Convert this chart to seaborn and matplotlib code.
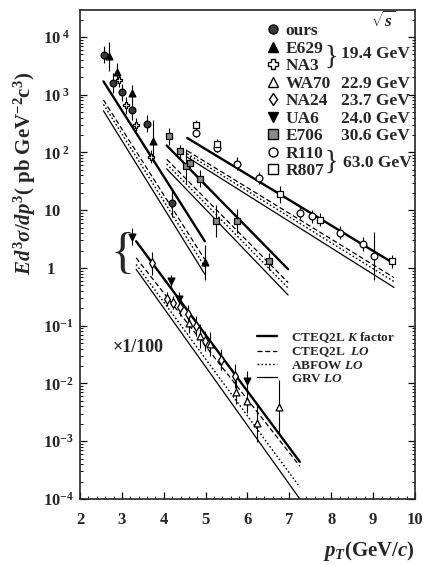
import numpy as np
import pandas as pd
import matplotlib
matplotlib.use("Agg")
import matplotlib.pyplot as plt
from matplotlib.lines import Line2D
from matplotlib.transforms import IdentityTransform
import seaborn as sns

# ---------------- measured direct-photon cross sections ----------------
# pT in GeV/c, E d3sigma/dp3 in pb GeV^-2 c^3, err = multiplicative error factor
# sqrt(s) = 19.4 GeV
ours_pt = [2.58, 2.78, 3.00, 3.25, 3.59, 4.19]
ours_xs = [4900, 1600, 1100, 550, 315, 13.5]
ours_err = [1.4, 1.5, 1.4, 1.5, 1.4, 1.8]

e629_pt = [2.70, 2.89, 3.25, 3.75, 4.98]
e629_xs = [4600, 2500, 1070, 156, 1.25]
e629_err = [1.8, 1.4, 1.4, 2.3, 2.0]

na3_pt = [2.94, 3.10, 3.34, 3.69]
na3_xs = [1800, 650, 300, 85]
na3_err = [1.3, 1.4, 1.3, 1.3]

# sqrt(s) = 30.6 GeV
e706_pt = [4.13, 4.39, 4.53, 4.63, 4.86, 5.25, 5.76, 6.51]
e706_xs = [190, 105, 58, 66, 35, 6.5, 6.5, 1.3]
e706_err = [1.4, 1.3, 2.0, 1.3, 1.4, 1.9, 1.6, 1.4]

# sqrt(s) = 63.0 GeV
r110_pt = [4.77, 5.26, 5.76, 6.27, 7.25, 7.53, 8.21, 8.75, 9.02]
r110_xs = [220, 120, 64, 36, 9.1, 7.9, 4.1, 2.6, 1.6]
r110_err = [1.2, 1.2, 1.3, 1.25, 1.3, 1.3, 1.3, 1.3, 2.6]

r807_pt = [4.77, 5.26, 6.77, 7.73, 9.46]
r807_xs = [300, 140, 19, 6.9, 1.3]
r807_err = [1.2, 1.2, 1.4, 1.3, 1.3]

# sqrt(s) = 22.9 - 24.0 GeV, values shown multiplied by 1/100
ua6_pt = [3.23, 4.17, 4.37, 5.99]
ua6_xs = [3.5, 0.59, 0.29, 0.011]
ua6_err = [1.4, 1.3, 1.3, 1.5]

na24_pt = [3.73, 4.08, 4.23, 4.39, 4.58, 4.78, 4.98, 5.36, 5.70]
na24_xs = [1.2, 0.29, 0.25, 0.21, 0.16, 0.10, 0.055, 0.026, 0.0135]
na24_err = [1.6, 1.3, 1.3, 1.4, 1.4, 1.5, 1.5, 1.5, 1.6]

wa70_pt = [4.61, 4.86, 5.10, 5.72, 5.98, 6.22, 6.75]
wa70_xs = [0.11, 0.066, 0.048, 0.0071, 0.005, 0.0021, 0.0039]
wa70_err = [1.5, 1.6, 1.6, 1.6, 1.6, 2.2, 3.0]

# ---------------- QCD predictions (end points of each curve) ----------------
models = ["CTEQ2L K factor", "CTEQ2L LO", "ABFOW LO", "GRV LO"]

s19_pt = [2.56, 4.98]
s19_curves = [[1700, 2.9], [810, 1.4], [680, 1.05], [525, 0.78]]

s31_pt = [4.07, 6.97]
s31_curves = [[132, 0.95], [76, 0.56], [63, 0.45], [52, 0.34]]

s63_pt = [4.56, 9.50]
s63_curves = [[178, 1.19], [107, 0.68], [95, 0.58], [83, 0.46]]

s23_pt = [3.34, 7.25]
s23_curves = [[2.9, 4.4e-4], [1.5, 3.7e-4], [1.15, 1.6e-4], [0.95, 1.0e-4]]

energies = ["19.4 GeV", "22.9 GeV", "23.7 GeV", "24.0 GeV", "30.6 GeV", "63.0 GeV"]

# ---------------- style ----------------
sns.set_theme(style="ticks")
plt.rcParams["font.family"] = ["Liberation Serif", "DejaVu Serif"]
plt.rcParams["font.weight"] = "bold"
plt.rcParams["mathtext.fontset"] = "custom"
plt.rcParams["mathtext.rm"] = "Liberation Serif:bold"
plt.rcParams["mathtext.bf"] = "Liberation Serif:bold"
plt.rcParams["mathtext.it"] = "Liberation Serif:italic:bold"
plt.rcParams["axes.linewidth"] = 1.2

fig = plt.figure(figsize=(4.23, 5.65), dpi=100)
ax = fig.add_axes([80 / 423, 1 - 499 / 565, 335 / 423, 489 / 565])
ax.set_yscale("log")
ax.set_xlim(2, 10)
ax.set_ylim(1e-4, 10 ** 4.466)

# theory curves
rows = []
for band, pts, curves in [("s19", s19_pt, s19_curves), ("s31", s31_pt, s31_curves),
                          ("s63", s63_pt, s63_curves), ("s23", s23_pt, s23_curves)]:
    for m, ys in zip(models, curves):
        for p, y in zip(pts, ys):
            rows.append({"band": band, "model": m, "pt": p, "xs": y})
theory = pd.DataFrame(rows)
dash_map = {"CTEQ2L K factor": "", "CTEQ2L LO": (4, 2.2), "ABFOW LO": (1.2, 1.6), "GRV LO": ""}
width_map = {"CTEQ2L K factor": 1.7, "CTEQ2L LO": 0.9, "ABFOW LO": 1.0, "GRV LO": 0.9}
sns.lineplot(data=theory, x="pt", y="xs", style="model", size="model", units="band",
             estimator=None, dashes=dash_map, sizes=width_map, color="black",
             legend=False, ax=ax, zorder=2)

# measured points
series = [
    ("ours", ours_pt, ours_xs, ours_err, "o", "#3a3a3a"),
    ("E629", e629_pt, e629_xs, e629_err, "^", "black"),
    ("NA3", na3_pt, na3_xs, na3_err, "P", "white"),
    ("WA70", wa70_pt, wa70_xs, wa70_err, "^", "white"),
    ("NA24", na24_pt, na24_xs, na24_err, "d", "white"),
    ("UA6", ua6_pt, ua6_xs, ua6_err, "v", "black"),
    ("E706", e706_pt, e706_xs, e706_err, "s", "#8a8a8a"),
    ("R110", r110_pt, r110_xs, r110_err, "o", "white"),
    ("R807", r807_pt, r807_xs, r807_err, "s", "white"),
]
handles = []
for name, pt, xs, err, mk, fc in series:
    xs_a = np.array(xs, dtype=float)
    f = np.array(err, dtype=float)
    ax.errorbar(pt, xs_a, yerr=[xs_a - xs_a / f, xs_a * f - xs_a], fmt="none",
                ecolor="black", elinewidth=0.8, capsize=0, zorder=3)
    sns.scatterplot(x=pt, y=xs_a, marker=mk, s=24, color=fc, edgecolor="black",
                    linewidth=0.9, ax=ax, zorder=4, legend=False)
    handles.append(Line2D([], [], ls="none", marker=mk, markersize=6.5,
                          markerfacecolor=fc, markeredgecolor="black", markeredgewidth=1.0))

# axes, ticks
ax.set_xticks(range(2, 11))
ax.set_xticks(np.arange(2, 10.01, 0.2), minor=True)
ax.set_xticklabels([str(v) for v in range(2, 11)], fontsize=12, fontweight="bold")
yt = [10.0 ** k for k in range(-4, 5)]
ylab = []
for k in range(-4, 5):
    if k == 0:
        ylab.append(r"$\;1$")
    elif k == 1:
        ylab.append(r"$10$")
    elif k > 0:
        ylab.append(r"$10^{\;%d}$" % k)
    else:
        ylab.append(r"$10^{%d}$" % k)
ax.set_yticks(yt)
ax.set_yticklabels(ylab, fontsize=12)
ax.yaxis.set_minor_locator(matplotlib.ticker.LogLocator(base=10, subs=np.arange(2, 10), numticks=20))
ax.yaxis.set_minor_formatter(matplotlib.ticker.NullFormatter())
ax.tick_params(axis="both", which="major", direction="in", length=5, width=0.9, color="black")
ax.tick_params(axis="both", which="minor", direction="in", length=2.5, width=0.7, color="black")
ax.tick_params(axis="y", which="both", right=True, pad=27)
ax.tick_params(axis="x", which="major", pad=9)
for lbl in ax.get_yticklabels():
    lbl.set_ha("left")

ax.set_xlabel(r"$p_{T}$(GeV/$c$)", fontsize=15, fontweight="bold")
ax.xaxis.set_label_coords(1.0, -0.082)
ax.xaxis.label.set_ha("right")
ax.set_ylabel(r"$Ed^{3}\sigma/dp^{3}$( pb GeV$^{-2}$c$^{3}$)", fontsize=15, fontweight="bold")
ax.yaxis.set_label_coords(-0.125, 0.665)

# marker legend with centre-of-mass energies
mleg = ax.legend(handles, [s[0] for s in series], loc="upper left",
                 bbox_to_anchor=(265 / 423, 1 - 23 / 565), bbox_transform=fig.transFigure,
                 frameon=False, prop={"family": "Liberation Serif", "weight": "bold", "size": 12.5},
                 handlelength=0.9, handletextpad=0.3, labelspacing=0.08,
                 borderpad=0, borderaxespad=0)
ax.add_artist(mleg)

# theory legend
lhandles = [Line2D([], [], color="black", lw=width_map[m],
                   dashes=dash_map[m] if dash_map[m] else (None, None)) for m in models]
for h, m in zip(lhandles, models):
    if dash_map[m] == "":
        h.set_linestyle("-")
llabels = [r"CTEQ2L $K$ factor", r"CTEQ2L  $LO$", r"ABFOW $LO$", r"GRV $LO$"]
lleg = ax.legend(lhandles, llabels, loc="upper left",
                 bbox_to_anchor=(257 / 423, 1 - 330 / 565), bbox_transform=fig.transFigure,
                 frameon=False, prop={"family": "Liberation Serif", "weight": "bold", "size": 9.5},
                 handlelength=1.55, handletextpad=1.0, labelspacing=0.05,
                 borderpad=0, borderaxespad=0)

# energy labels aligned with legend rows
fig.canvas.draw()
rend = fig.canvas.get_renderer()
yc = {}
for t in mleg.get_texts():
    bb = t.get_window_extent(rend)
    yc[t.get_text()] = 0.5 * (bb.y0 + bb.y1)
tx = 341
etxt = dict(fontsize=12.5, fontweight="bold", va="center", ha="left",
            transform=IdentityTransform())
brace = dict(fontsize=20, fontweight="normal", va="center", ha="center",
             transform=IdentityTransform())
y194 = 0.5 * (yc["E629"] + yc["NA3"])
ax.text(tx, y194 + 3, energies[0], **etxt)
ax.text(331, y194, "}", **brace)
ax.text(tx, yc["WA70"], energies[1], **etxt)
ax.text(tx, yc["NA24"], energies[2], **etxt)
ax.text(tx, yc["UA6"], energies[3], **etxt)
ax.text(tx, yc["E706"], energies[4], **etxt)
y63 = 0.5 * (yc["R110"] + yc["R807"])
ax.text(tx + 2, y63, energies[5], **etxt)
ax.text(331, y63, "}", **brace)
ax.text(383, 565 - 21, r"$\sqrt{s}$", fontsize=12.5, ha="center", va="center",
        transform=IdentityTransform())

# scaled group annotations
ax.text((138 - 80) / 335, (499 - 347) / 489, "×1/100", fontsize=13, fontweight="bold",
        ha="center", va="center", transform=ax.transAxes)
ax.text((122 - 80) / 335, (499 - 255) / 489, "{", fontsize=36, fontweight="normal",
        ha="center", va="center", transform=ax.transAxes)

fig.savefig("out.png", dpi=100)
